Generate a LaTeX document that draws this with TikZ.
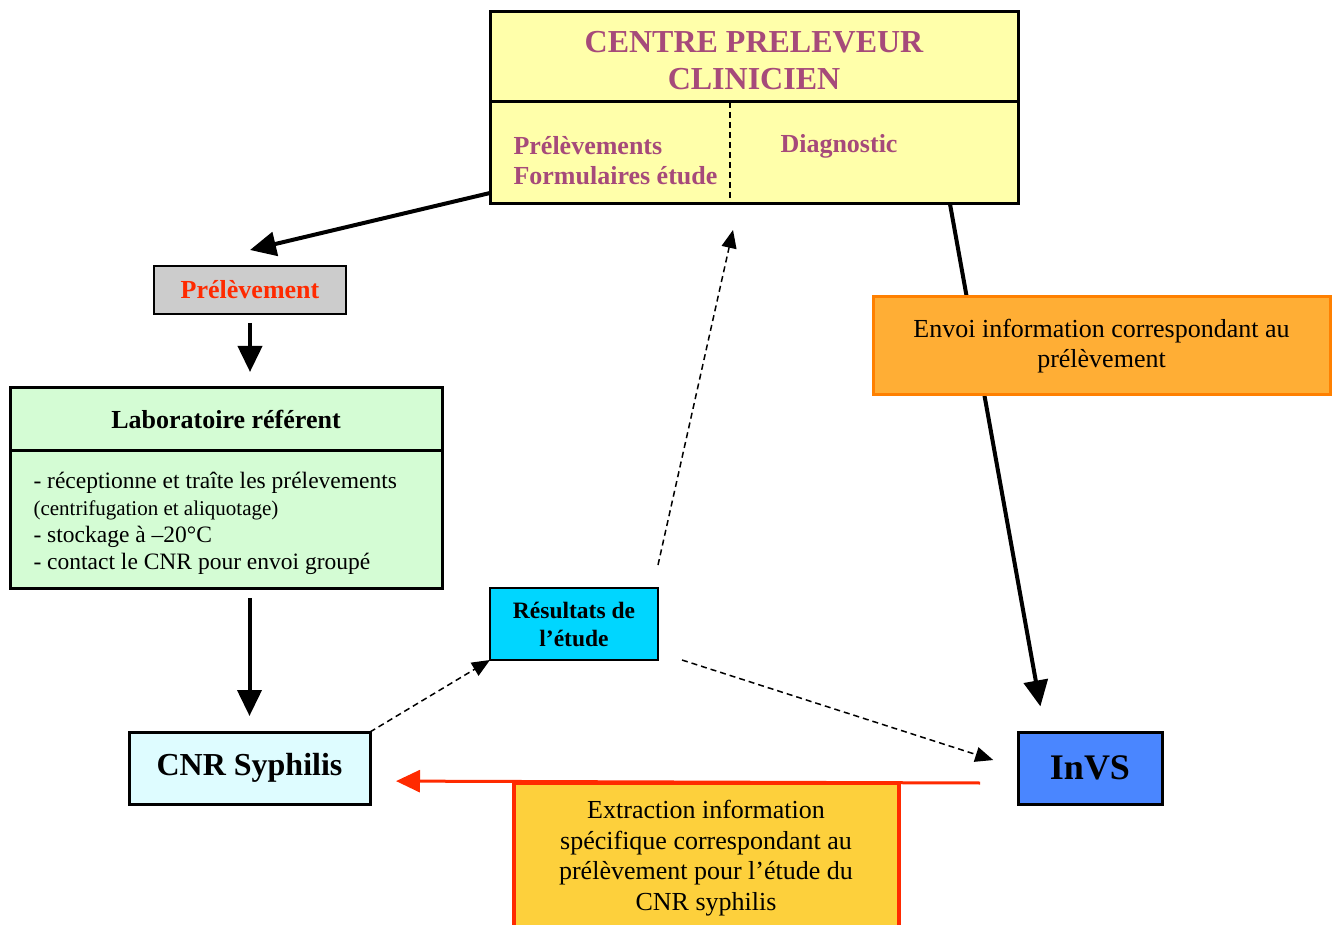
\documentclass[tikz,border=0pt]{standalone}
\usepackage{fontspec}
\setmainfont{Liberation Serif}
\usepackage{tikz}
\usetikzlibrary{arrows.meta}
\usetikzlibrary{positioning}

\definecolor{mauve}{RGB}{166,74,122}
\definecolor{paleyellow}{RGB}{255,255,170}
\definecolor{palegreen}{RGB}{212,252,212}
\definecolor{palecyan}{RGB}{222,252,255}
\definecolor{skyblue}{RGB}{0,214,255}
\definecolor{invsblue}{RGB}{74,134,255}
\definecolor{orangefill}{RGB}{255,174,53}
\definecolor{orangeline}{RGB}{255,128,0}
\definecolor{goldfill}{RGB}{253,208,60}
\definecolor{redline}{RGB}{255,42,0}

\begin{document}
\begin{tikzpicture}[x=1pt, y=-1pt,
        box/.style={rectangle, draw=black, line width=3pt, outer sep=0pt, inner sep=0pt},
        title/.style={font=\fontsize{32}{37}\selectfont\bfseries, text=mauve, align=center},
        label/.style={font=\fontsize{26}{30}\selectfont\bfseries, text=mauve, align=left},
        body/.style={font=\fontsize{26}{30.5}\selectfont, align=center},
        bigarrow/.style={line width=4pt, -{Triangle[length=26pt, width=24pt]}},
        dasharrow/.style={line width=1.5pt, dash pattern=on 6pt off 4pt, -{Triangle[length=18pt, width=15pt]}}
      ]
        \useasboundingbox (0,0) rectangle (1334,925);

        % centre preleveur
        \node[box, fill=paleyellow, minimum width=528pt, minimum height=90pt]  (centretop) at (754,57)  {};
        \node[box, fill=paleyellow, minimum width=528pt, minimum height=102pt] (centrebot) [below=0pt of centretop] {};
        \node[title]  (centretitle)  at (754,61)  {CENTRE PRELEVEUR\\CLINICIEN};
        \node[label, anchor=west]  (prelform)  at (510,161)  {Prélèvements\\Formulaires étude};
        \node[label, anchor=west]  (diag)      at (777,146)  {Diagnostic};
        \draw[line width=2pt, dash pattern=on 6pt off 4pt] ([xshift=-24pt]centrebot.north) -- ([xshift=-24pt]centrebot.south);

        % prelevement + laboratoire
        \node[box, fill=black!20, line width=2pt, minimum width=192pt, minimum height=48pt,
              font=\fontsize{26}{30}\selectfont\bfseries, text=redline]  (prel)  at (250,290)  {Prélèvement};
        \node[box, fill=palegreen, minimum width=432pt, minimum height=62pt,
              font=\fontsize{26}{30}\selectfont\bfseries]  (labtop)  at (226,419)  {Laboratoire référent};
        \node[box, fill=palegreen, minimum width=432pt, minimum height=138pt]  (labbot)  [below=0pt of labtop]  {};
        \node[anchor=west, align=left, font=\fontsize{23.5}{27}\selectfont]  (labtext)  at (30,523)
              {- réceptionne et traîte les prélevements\\
               {\fontsize{21}{26}\selectfont (centrifugation et aliquotage)}\\
               - stockage à –20°C\\
               - contact le CNR pour envoi groupé};

        % cnr, resultats, invs
        \node[box, fill=palecyan, minimum width=241pt, minimum height=72pt,
              font=\fontsize{32}{37}\selectfont\bfseries]  (cnr)  at (249.5,768)  {CNR Syphilis};
        \node[box, fill=skyblue, line width=2pt, minimum width=168pt, minimum height=72pt,
              font=\fontsize{23.5}{28}\selectfont\bfseries, align=center]  (res)  at (574,624)  {Résultats de\\l’étude};
        \node[box, fill=invsblue, minimum width=144pt, minimum height=72pt,
              font=\fontsize{36}{40}\selectfont\bfseries]  (invs)  at (1090,768)  {InVS};

        \coordinate (prelup)    at ([yshift=16pt]prel.north);
        \coordinate (resup)     at ([yshift=23pt]res.north east);
        \coordinate (diagdown)  at (733,230);
        \coordinate (redstart)  at ([xshift=-38pt, yshift=-15pt]invs.west);
        \coordinate (redend)    at ([yshift=-13pt]cnr.east);

        \draw[bigarrow]  ([yshift=11pt]centrebot.south west) -- (prelup);
        \draw[bigarrow, shorten <=9pt, shorten >=16pt]  (prel.south) -- (prel.south |- labtop.north);
        \draw[bigarrow, shorten <=10pt, shorten >=16pt]  (cnr.north |- labbot.south) -- (cnr.north);
        \draw[bigarrow, shorten >=26pt]  ([xshift=196pt]centrebot.south) -- ([xshift=-45pt]invs.north);

        \draw[dasharrow]  (cnr.north east) -- (res.south west);
        \draw[dasharrow]  (resup) -- (diagdown);
        \draw[dasharrow, shorten >=26pt]  ([xshift=24pt]res.south east) -- (invs.west);

        \draw[redline, line width=3pt, -{Triangle[length=24pt, width=22pt]}, shorten >=26pt]  (redstart) -- (redend);

        % boxes laid over the connectors
        \node[box, draw=orangeline, fill=orangefill, minimum width=457pt, minimum height=98pt, body]
              (envoi)  at (1101.5,346)  {Envoi information correspondant au\\prélèvement};
        \node[box, draw=redline, line width=4pt, fill=goldfill, minimum width=385pt, minimum height=150pt]
              (extract)  at (706.5,858)  {};
        \node[body]  (extracttext)  at (706,858)
              {Extraction information\\spécifique correspondant au\\prélèvement pour l’étude du\\CNR syphilis};
      \end{tikzpicture}
\end{document}
